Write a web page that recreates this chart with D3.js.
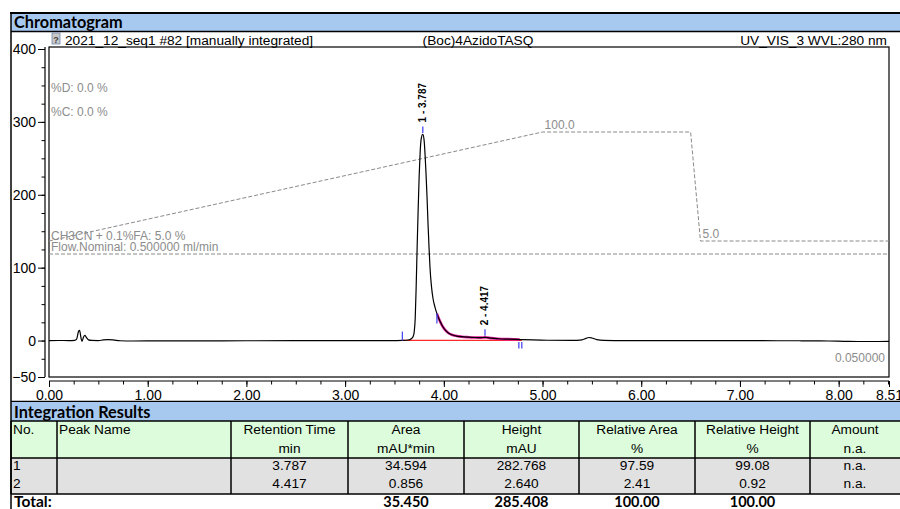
<!DOCTYPE html>
<html>
<head>
<meta charset="utf-8">
<script src="https://cdn.jsdelivr.net/npm/d3@7"></script>
<style>
  html, body { margin: 0; padding: 0; background: #fff; }
  svg { display: block; }
  text { font-family: "Liberation Sans", Arial, sans-serif; }
  .hdr { font-family: Lato, "Open Sans", sans-serif; font-weight: bold; }
</style>
</head>
<body>
<script>
// ---- Chromatogram trace (retention time in min, signal in mAU) ----
const traceTime = [0.00, 0.10, 0.20, 0.26, 0.28, 0.30, 0.31, 0.325, 0.335, 0.35, 0.365, 0.38, 0.40, 0.43,
  0.50, 0.55, 0.60, 0.65, 0.72, 0.85, 1.00, 1.50, 2.00, 2.50, 3.00, 3.30, 3.50, 3.58, 3.64, 3.67,
  3.69, 3.70, 3.71, 3.72, 3.73, 3.74, 3.75, 3.76, 3.77, 3.787, 3.80, 3.81, 3.82, 3.83, 3.84, 3.85,
  3.86, 3.875, 3.89, 3.91, 3.93, 3.95, 3.97, 3.99, 4.02, 4.05, 4.08, 4.12, 4.18, 4.25, 4.32, 4.37,
  4.40, 4.417, 4.44, 4.48, 4.55, 4.65, 4.77, 4.90, 5.05, 5.30, 5.40, 5.44, 5.47, 5.50, 5.55, 5.62,
  5.80, 6.20, 6.80, 7.20, 7.60, 7.90, 8.10, 8.30, 8.51];
const traceValue = [0, 0.1, 0, 0.3, 2, 13, 14, 3, -1, 5, 7, 4, 1, 0.2,
  0, 0.8, 1.2, 0.8, -0.3, -0.6, -0.5, -0.4, -0.3, -0.2, 0, -0.2, 0, 0.2, 0.8, 2.5,
  6, 12, 30, 75, 130, 180, 225, 258, 276, 282.768, 275, 255, 228, 196, 160, 128,
  100, 74, 58, 46, 37, 30, 24, 19, 13.5, 10, 8, 6.5, 5.3, 4.6, 4.2, 4.0,
  4.2, 4.4, 4.1, 3.3, 2.5, 1.9, 1.4, 0.8, 0.4, 0.3, 1, 3, 4.2, 3.5, 1.2, 0.3,
  0, -0.2, 0, -0.2, -0.3, -0.6, -1.2, -1.3, -1.2];

// ---- Gradient (%B) and flow program ----
const gradTime = [0, 5.0, 6.5, 6.6, 8.51];
const gradPct = [5.0, 100.0, 100.0, 5.0, 5.0];
const flowTime = [0, 8.51];
const flowRate = [0.5, 0.5];
const pctD = 0.0, pctC = 0.0;

// ---- Integration ----
const peakNo = [1, 2];
const peakName = ["", ""];
const peakRT = [3.787, 4.417];
const peakArea = [34.594, 0.856];
const peakHeight = [282.768, 2.640];
const peakRelArea = [97.59, 2.41];
const peakRelHeight = [99.08, 0.92];
const peakAmount = ["n.a.", "n.a."];
const peakStart = 3.58, peakSplit = 3.93, peakEnds = [4.76, 4.79];
const baselineTime = [3.58, 4.79];
const baselineValue = [0.2, 0.2];

// ---- Axis ticks ----
const xMajor = [0, 1, 2, 3, 4, 5, 6, 7, 8, 8.51];
const xMinor = d3.range(0, 8.51, 0.25);
const yMajor = [-50, 0, 100, 200, 300, 400];
const yMinor = d3.range(-50, 401, 25);

const W = 900, H = 509;
const svg = d3.select("body").append("svg").attr("width", W).attr("height", H);

const blue = "#a8c9ef", green = "#ddfcdc", grey = "#e1e1e1", soft = "#8c8c8c";

// ---- Panel chrome ----
svg.append("rect").attr("x", 11).attr("y", 13).attr("width", W - 11).attr("height", 18).attr("fill", blue);
svg.append("line").attr("x1", 10).attr("x2", W).attr("y1", 13).attr("y2", 13).attr("stroke", "#000").attr("stroke-width", 2);
svg.append("line").attr("x1", 11).attr("x2", W).attr("y1", 31.5).attr("y2", 31.5).attr("stroke", "#000").attr("stroke-width", 1.5);
svg.append("text").attr("class", "hdr").attr("x", 14).attr("y", 28).attr("font-size", 16.3).text("Chromatogram");

// ---- Scales ----
const x = d3.scaleLinear().domain([0, 8.51]).range([49, 889]);
const y = d3.scaleLinear().domain([-50, 400]).range([377, 49]);
const gy = d3.scaleLinear().domain([5, 100]).range([241, 132]);
const fy = d3.scaleLinear().domain([0, 0.5]).range([y(0), 254]);

// header line
const ic = svg.append("g").attr("transform", "translate(52,33)");
ic.append("rect").attr("width", 8).attr("height", 11).attr("fill", "#c8c8c8").attr("stroke", "#6f86ad").attr("stroke-width", 0.8);
ic.append("text").attr("x", 4).attr("y", 9.5).attr("text-anchor", "middle").attr("font-size", 9).attr("font-weight", "bold").attr("fill", "#444").text("?");
svg.append("text").attr("x", 65).attr("y", 44.5).attr("font-size", 13.7).text("2021_12_seq1 #82 [manually integrated]");
svg.append("text").attr("x", 478).attr("y", 44.5).attr("font-size", 13.7).attr("text-anchor", "middle").text("(Boc)4AzidoTASQ");
svg.append("text").attr("x", 887).attr("y", 44.5).attr("font-size", 13.7).attr("text-anchor", "end").text("UV_VIS_3 WVL:280 nm");

// plot frame
svg.append("rect").attr("x", 49).attr("y", 47).attr("width", 840).attr("height", 330)
  .attr("fill", "none").attr("stroke", "#000").attr("stroke-width", 1.2);

// ---- Axes ----
const yMinorG = svg.append("g").attr("transform", "translate(45,0)")
  .call(d3.axisLeft(y).tickValues(yMinor).tickSize(3.5).tickSizeOuter(0).tickFormat(""));
yMinorG.select(".domain").remove();
const yG = svg.append("g").attr("transform", "translate(45,0)")
  .call(d3.axisLeft(y).tickValues(yMajor).tickSize(7).tickPadding(2).tickFormat(d3.format("d")));
yG.select(".domain").remove();
yG.selectAll("text").attr("font-size", 14).attr("font-family", "'Liberation Sans', Arial, sans-serif");
svg.append("line").attr("x1", 45).attr("x2", 45).attr("y1", 47).attr("y2", 377).attr("stroke", "#000").attr("stroke-width", 1.2);

const xMinorG = svg.append("g").attr("transform", "translate(0,381)")
  .call(d3.axisBottom(x).tickValues(xMinor).tickSize(3.5).tickSizeOuter(0).tickFormat(""));
xMinorG.select(".domain").remove();
const xG = svg.append("g").attr("transform", "translate(0,381)")
  .call(d3.axisBottom(x).tickValues(xMajor).tickSize(6).tickPadding(3).tickFormat(d3.format(".2f")));
xG.select(".domain").remove();
xG.selectAll("text").attr("font-size", 14).attr("font-family", "'Liberation Sans', Arial, sans-serif");
svg.append("line").attr("x1", 49).attr("x2", 889).attr("y1", 381).attr("y2", 381).attr("stroke", "#000").attr("stroke-width", 1.2);

// ---- Gradient and flow program (dashed) ----
const gradLine = d3.line().x(d => x(d[0])).y(d => gy(d[1]));
svg.append("path").attr("d", gradLine(d3.zip(gradTime, gradPct)))
  .attr("fill", "none").attr("stroke", "#8a8a8a").attr("stroke-width", 1).attr("stroke-dasharray", "4,2");
const flowLine = d3.line().x(d => x(d[0])).y(d => fy(d[1]));
svg.append("path").attr("d", flowLine(d3.zip(flowTime, flowRate)))
  .attr("fill", "none").attr("stroke", "#8a8a8a").attr("stroke-width", 1).attr("stroke-dasharray", "4,2");

const f1 = d3.format(".1f");
const note = (tx, ty, s, anchor) => svg.append("text").attr("x", tx).attr("y", ty).attr("font-size", 12)
  .attr("fill", soft).attr("text-anchor", anchor || "start").text(s);
note(51, 92, `%D: ${f1(pctD)} %`);
note(51, 116, `%C: ${f1(pctC)} %`);
note(51, 240, `CH3CN + 0.1%FA: ${f1(gradPct[0])} %`);
note(51, 250.5, `Flow.Nominal: ${d3.format(".6f")(flowRate[0])} ml/min`);
note(x(gradTime[1]) + 2, gy(gradPct[1]) - 3, f1(gradPct[1]));
note(x(gradTime[3]) + 2, gy(gradPct[3]) - 3.5, f1(gradPct[3]));
note(885, 362, "0.050000", "end");

// ---- Trace ----
const tracePts = d3.zip(traceTime, traceValue);
const line = d3.line().x(d => x(d[0])).y(d => y(d[1])).curve(d3.curveMonotoneX);

// integration baseline
svg.append("path").attr("d", d3.line().x(d => x(d[0])).y(d => y(d[1]))(d3.zip(baselineTime, baselineValue)))
  .attr("fill", "none").attr("stroke", "#ff2a2a").attr("stroke-width", 1.3);
// skimmed tail
const tail = tracePts.filter(d => d[0] >= peakSplit && d[0] <= peakEnds[1]);
svg.append("path").attr("d", line(tail)).attr("fill", "none").attr("stroke", "#e3189b").attr("stroke-width", 2.6);

svg.append("path").attr("d", line(tracePts)).attr("fill", "none").attr("stroke", "#000").attr("stroke-width", 1.2);

// ---- Peak delimiters ----
const mark = "#4a4cf0";
const vmark = (t, y1, y2) => svg.append("line").attr("x1", x(t)).attr("x2", x(t)).attr("y1", y1).attr("y2", y2)
  .attr("stroke", mark).attr("stroke-width", 1.3);
const valueAt = t => {
  const i = d3.bisectLeft(traceTime, t);
  return traceValue[Math.min(i, traceValue.length - 1)];
};
vmark(peakStart, y(0) - 9, y(0));
vmark(peakSplit, y(valueAt(peakSplit)), y(valueAt(peakSplit)) + 10);
peakEnds.forEach(t => vmark(t, y(0) + 1.5, y(0) + 8));

// ---- Peak labels ----
peakRT.forEach((rt, i) => {
  const top = y(valueAt(rt));
  vmark(rt, top - 8, top - 1.5);
  svg.append("text")
    .attr("transform", `translate(${x(rt)},${top - 12}) rotate(-90)`)
    .attr("dy", "0.35em").attr("font-size", 10).attr("font-weight", "bold")
    .text(`${peakNo[i]} - ${d3.format(".3f")(rt)}`);
});

// ---- Integration results table ----
const tTop = 402;
svg.append("line").attr("x1", 11).attr("x2", W).attr("y1", 401.5).attr("y2", 401.5).attr("stroke", "#000").attr("stroke-width", 1.5);
svg.append("rect").attr("x", 11).attr("y", tTop).attr("width", W - 11).attr("height", 19).attr("fill", blue);
svg.append("rect").attr("x", 11).attr("y", 421).attr("width", W - 11).attr("height", 37).attr("fill", green);
svg.append("rect").attr("x", 11).attr("y", 458).attr("width", W - 11).attr("height", 36).attr("fill", grey);
svg.append("text").attr("class", "hdr").attr("x", 14).attr("y", 418).attr("font-size", 16.3).text("Integration Results");

[421, 458, 494].forEach(v => svg.append("line").attr("x1", 11).attr("x2", W).attr("y1", v).attr("y2", v)
  .attr("stroke", "#000").attr("stroke-width", 1.5));
const colEdges = [11, 57, 231, 348, 464, 579, 695, 810, 900];
colEdges.slice(0, -1).forEach(cx => svg.append("line").attr("x1", cx).attr("x2", cx).attr("y1", 421).attr("y2", 494)
  .attr("stroke", "#000").attr("stroke-width", 1.5));
svg.append("line").attr("x1", 11).attr("x2", 11).attr("y1", 12).attr("y2", H).attr("stroke", "#000").attr("stroke-width", 1.5);

const head1 = ["No.", "Peak Name", "Retention Time", "Area", "Height", "Relative Area", "Relative Height", "Amount"];
const head2 = ["", "", "min", "mAU*min", "mAU", "%", "%", "n.a."];
const f3 = d3.format(".3f"), f2 = d3.format(".2f");
const rows = peakNo.map((n, i) => [String(n), peakName[i], f3(peakRT[i]), f3(peakArea[i]), f3(peakHeight[i]),
  f2(peakRelArea[i]), f2(peakRelHeight[i]), peakAmount[i]]);
const totals = ["", "", "", f3(d3.sum(peakArea)), f3(d3.sum(peakHeight)), f2(d3.sum(peakRelArea)), f2(d3.sum(peakRelHeight)), ""];

const cell = (c, ty, s, bold) => {
  const left = c < 2;
  const t = svg.append("text")
    .attr("x", left ? colEdges[c] + 2 : (colEdges[c] + colEdges[c + 1]) / 2)
    .attr("y", ty).attr("text-anchor", left ? "start" : "middle").text(s);
  if (bold) t.attr("class", "hdr").attr("font-size", 14.5);
  else t.attr("font-size", 13.7);
};
head1.forEach((s, c) => cell(c, 434, s));
head2.forEach((s, c) => cell(c, 453, s));
rows.forEach((r, i) => r.forEach((s, c) => cell(c, 470 + i * 17.5, s)));
svg.append("text").attr("class", "hdr").attr("x", 14).attr("y", 507).attr("font-size", 15.5).text("Total:");
totals.forEach((s, c) => { if (s) cell(c, 507, s, true); });
</script>
</body>
</html>
